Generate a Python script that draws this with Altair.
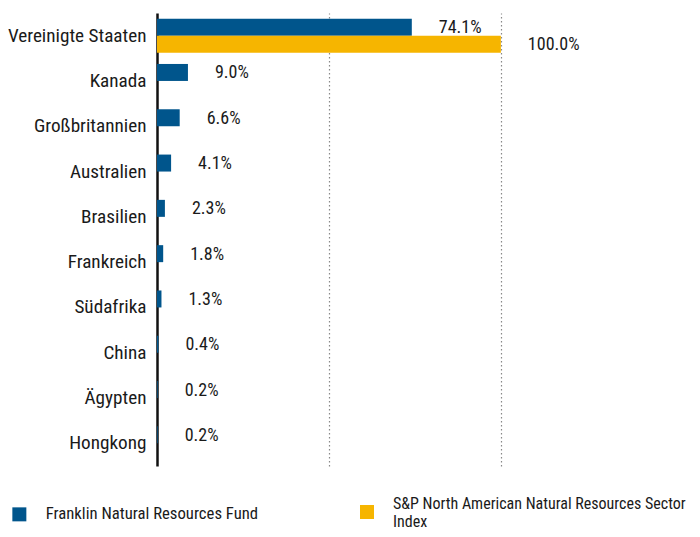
import altair as alt
import pandas as pd

countries = ["Vereinigte Staaten", "Kanada", "Großbritannien", "Australien", "Brasilien",
             "Frankreich", "Südafrika", "China", "Ägypten", "Hongkong"]
fund_values = [74.1, 9.0, 6.6, 4.1, 2.3, 1.8, 1.3, 0.4, 0.2, 0.2]
index_values = [100.0, None, None, None, None, None, None, None, None, None]
series = ["Franklin Natural Resources Fund", "S&P North American Natural Resources Sector Index"]
colors = ["#00558C", "#F6B500"]

rows = []
for c, f, i in zip(countries, fund_values, index_values):
    rows.append({"country": c, "series": series[0], "value": f, "label": f"{f:.1f}%"})
    if i is not None:
        rows.append({"country": c, "series": series[1], "value": i, "label": f"{i:.1f}%"})
df = pd.DataFrame(rows)

FONT = "Roboto Condensed"
TXT = "#1a1a1a"

y_enc = alt.Y("country:N", sort=countries,
              scale=alt.Scale(paddingInner=0.25, paddingOuter=0.125),
              axis=alt.Axis(title=None, labelFontSize=19.2, labelFont=FONT, labelColor=TXT,
                            labelPadding=11, ticks=False, domainColor="#111", domainWidth=2.5,
                            grid=False, labelLimit=300))
yoff_enc = alt.YOffset("series:N", scale=alt.Scale(domain=series, paddingInner=0, paddingOuter=0))
x_enc = alt.X("value:Q", scale=alt.Scale(domain=[0, 155], nice=False),
              axis=alt.Axis(title=None, labels=False, ticks=False, domain=False, values=[50, 100],
                            grid=True, gridDash=[1.5, 2.5], gridColor="#888", gridWidth=1.2))

common_legend = dict(title=None, orient="none", symbolType="square", symbolSize=196,
                     symbolStrokeWidth=0, symbolOpacity=1, labelOffset=18,
                     labelFont=FONT, labelColor=TXT, labelLimit=500)
legend_fund = alt.Legend(legendX=-146, legendY=493, labelFontSize=16.7, **common_legend)
legend_index = alt.Legend(legendX=202, legendY=491, labelBaseline="bottom", labelFontSize=16.0,
                          labelExpr="['S&P North American Natural Resources Sector', 'Index']",
                          **common_legend)

base = alt.Chart(df)
bars_fund = base.transform_filter(alt.datum.series == series[0]).mark_bar().encode(
    y=y_enc, yOffset=yoff_enc, x=x_enc,
    color=alt.Color("series:N", scale=alt.Scale(domain=[series[0]], range=[colors[0]]), legend=legend_fund),
)
bars_index = base.transform_filter(alt.datum.series == series[1]).mark_bar().encode(
    y=alt.Y("country:N", sort=countries), yOffset=alt.YOffset("series:N"), x=alt.X("value:Q"),
    fill=alt.Fill("series:N", scale=alt.Scale(domain=[series[1]], range=[colors[1]]), legend=legend_index),
)

texts = base.mark_text(align="left", baseline="middle", dx=27, dy=1, fontSize=18,
                       font=FONT, color=TXT).encode(
    y=alt.Y("country:N", sort=countries), yOffset=alt.YOffset("series:N"),
    x=alt.X("value:Q"), text="label:N",
)

chart = alt.layer(bars_fund, bars_index, texts).properties(
    width=533, height=453,
    autosize=alt.AutoSizeParams(type="none"),
    padding={"left": 149, "top": 5, "right": 2, "bottom": 63},
).configure_view(stroke=None)

chart.save("out.html", embed_options={"renderer": "svg", "actions": False})
